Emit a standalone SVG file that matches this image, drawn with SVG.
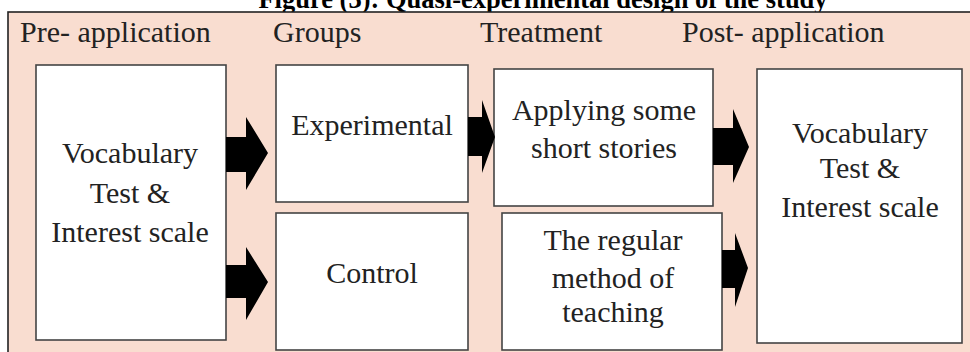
<svg xmlns="http://www.w3.org/2000/svg" width="970" height="352" viewBox="0 0 970 352">
<style>
.t{font-family:"Liberation Serif","Times New Roman",serif;fill:#222;}
.h{font-size:30px;}
.b{font-size:30px;text-anchor:middle;}
.ti{font-family:"Liberation Serif","Times New Roman",serif;font-weight:bold;font-size:26.5px;fill:#000;text-anchor:middle;}
.box{fill:#fff;stroke:#444;stroke-width:1.6;}
.arr{fill:#000;}
</style>
<rect x="0" y="0" width="970" height="352" fill="#fff"/>
<text class="ti" x="543" y="8">Figure (3): Quasi-experimental design of the study</text>
<rect x="8" y="12" width="970" height="350" fill="#f9ddd0" stroke="#222" stroke-width="1.6"/>
<g id="headers">
<text class="t h" x="20" y="42">Pre- application</text>
<text class="t h" x="273" y="42">Groups</text>
<text class="t h" x="480" y="42">Treatment</text>
<text class="t h" x="682" y="42">Post- application</text>
</g>
<g id="pre">
<rect class="box" x="36" y="65" width="190" height="275"/>
<text class="t b" x="130" y="163">Vocabulary</text>
<text class="t b" x="130" y="203">Test &amp;</text>
<text class="t b" x="130" y="242">Interest scale</text>
</g>
<g id="experimental">
<rect class="box" x="276" y="65" width="192" height="137"/>
<text class="t b" x="372" y="135">Experimental</text>
</g>
<g id="control">
<rect class="box" x="276" y="213" width="192" height="137"/>
<text class="t b" x="372" y="283">Control</text>
</g>
<g id="applying">
<rect class="box" x="494" y="69" width="219" height="137"/>
<text class="t b" x="604" y="120">Applying some</text>
<text class="t b" x="604" y="158">short stories</text>
</g>
<g id="regular">
<rect class="box" x="502" y="213" width="220" height="137"/>
<text class="t b" x="613" y="250">The regular</text>
<text class="t b" x="613" y="288">method of</text>
<text class="t b" x="613" y="322">teaching</text>
</g>
<g id="post">
<rect class="box" x="757" y="69" width="205" height="274"/>
<text class="t b" x="860" y="143">Vocabulary</text>
<text class="t b" x="860" y="178">Test &amp;</text>
<text class="t b" x="860" y="217">Interest scale</text>
</g>
<g id="connectors">
<polygon class="arr" points="226,137 246,137 246,117 268,153 246,190 246,172 226,172"/>
<polygon class="arr" points="226,265 246,265 246,247 268,282 246,320 246,298 226,298"/>
<polygon class="arr" points="468,117 482,117 482,100 495,137 482,173 482,156 468,156"/>
<polygon class="arr" points="713,128 733,128 733,109 749,147 733,183 733,165 713,165"/>
<polygon class="arr" points="722,250 735,250 735,233 748,268 735,307 735,288 722,288"/>
</g>
</svg>
